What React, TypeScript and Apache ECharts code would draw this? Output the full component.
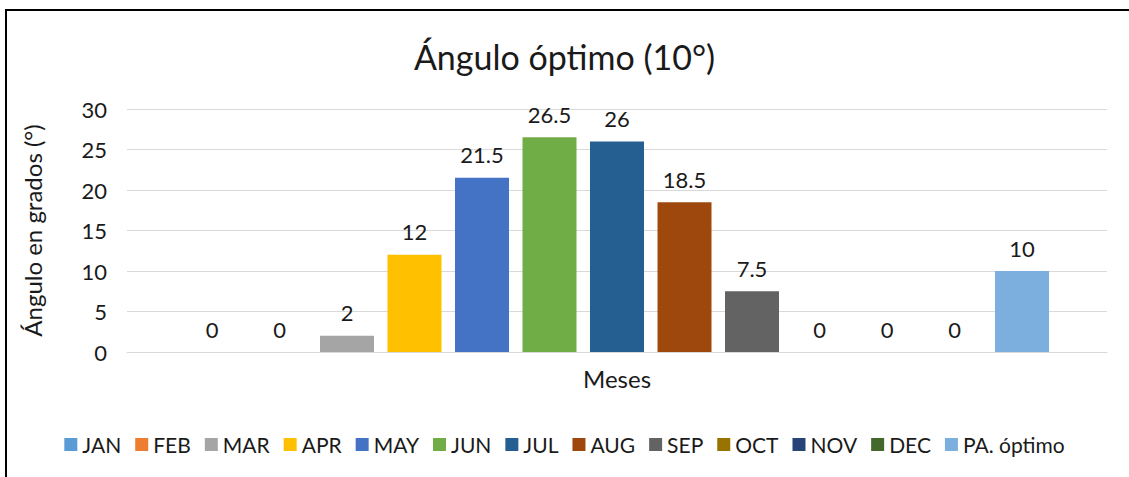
import React, { useEffect, useRef } from "react";
import * as echarts from "echarts";

const seriesNames = ["JAN", "FEB", "MAR", "APR", "MAY", "JUN", "JUL", "AUG", "SEP", "OCT", "NOV", "DEC", "PA. óptimo"];
const seriesValues = [0, 0, 2, 12, 21.5, 26.5, 26, 18.5, 7.5, 0, 0, 0, 10];
const seriesColors = ["#5B9BD5", "#ED7D31", "#A5A5A5", "#FFC000", "#4472C4", "#70AD47", "#255E91", "#9E480E", "#636363", "#997300", "#264478", "#43682B", "#7CAFDD"];
const categories = [""];
const yTicks = { min: 0, max: 30, interval: 5 };

const FONT = "Lato, 'Open Sans', sans-serif";
const TEXT = "#1a1a1a";

export default function App() {
  const ref = useRef<HTMLDivElement>(null);
  useEffect(() => {
    if (!ref.current) return;
    const chart = echarts.init(ref.current, null, { renderer: "svg" });
    chart.setOption({
      animation: false,
      backgroundColor: "#fff",
      title: {
        text: "Ángulo óptimo (10°)",
        left: "center",
        top: 34,
        textStyle: { fontFamily: FONT, fontSize: 34, fontWeight: "normal", color: TEXT },
      },
      legend: {
        bottom: 17,
        left: "center",
        itemWidth: 13,
        itemHeight: 13,
        itemGap: 14,
        icon: "rect",
        textStyle: { fontFamily: FONT, fontSize: 21, color: TEXT },
        data: seriesNames,
      },
      grid: { left: 127, right: 22, top: 109, bottom: 125 },
      xAxis: {
        type: "category",
        data: categories,
        name: "Meses",
        nameLocation: "middle",
        nameGap: 14,
        nameTextStyle: { fontFamily: FONT, fontSize: 24, color: TEXT },
        axisTick: { show: false },
        axisLabel: { show: false },
        axisLine: { lineStyle: { color: "#d9d9d9", width: 1 } },
      },
      yAxis: {
        type: "value",
        min: yTicks.min,
        max: yTicks.max,
        interval: yTicks.interval,
        name: "Ángulo en grados (°)",
        nameLocation: "middle",
        nameGap: 83,
        nameTextStyle: { fontFamily: FONT, fontSize: 24, color: TEXT },
        axisLabel: { fontFamily: FONT, fontSize: 22, color: TEXT, margin: 20 },
        splitLine: { lineStyle: { color: "#d9d9d9", width: 1 } },
        axisLine: { show: false },
        axisTick: { show: false },
      },
      series: seriesNames.map((name, i) => ({
        name,
        type: "bar",
        data: [seriesValues[i]],
        barWidth: 54,
        barGap: "25%",
        itemStyle: { color: seriesColors[i] },
        label: {
          show: true,
          position: "top",
          distance: 12,
          fontFamily: FONT,
          fontSize: 22,
          color: TEXT,
        },
      })),
    });
    return () => chart.dispose();
  }, []);
  return (
    <div style={{ position: "fixed", left: 0, top: 0, width: 1129, height: 477, background: "#fff", overflow: "hidden" }}>
      <div ref={ref} style={{ position: "absolute", left: 0, top: 0, width: 1129, height: 477 }} />
      <div
        style={{
          position: "absolute",
          left: 5,
          top: 9,
          width: 1140,
          height: 490,
          border: "2px solid #000",
          pointerEvents: "none",
        }}
      />
    </div>
  );
}
